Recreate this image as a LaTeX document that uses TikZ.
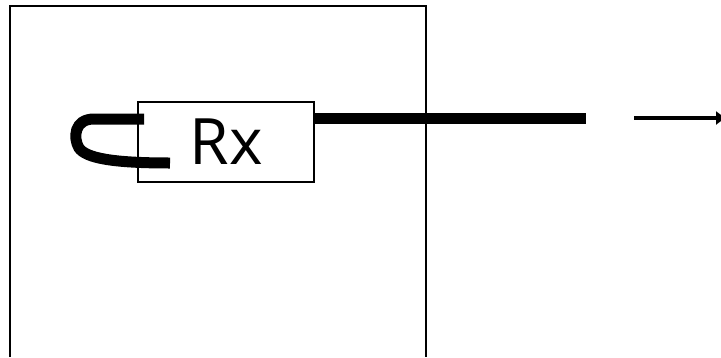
\documentclass[tikz,border=0pt]{standalone}
\usepackage{fontspec}
\setmainfont{Open Sans}
\usetikzlibrary{arrows.meta}
\begin{document}
\begin{tikzpicture}[x=1pt,y=-1pt,
  rxbox/.style={draw,line width=1.3pt,minimum width=176pt,minimum height=80pt,inner sep=0pt,font=\fontsize{64}{66}\selectfont},
  thickbar/.style={line width=11pt},
  hookline/.style={line width=11pt,line cap=butt},
  outarrow/.style={line width=4pt,-{Triangle[length=9pt,width=13pt]}}]
\useasboundingbox (0,0) rectangle (721,357);
\coordinate (ol) at (10,357);
\coordinate (otl) at (10,6);
\coordinate (otr) at (426,6);
\coordinate (or) at (426,357);
\draw[line width=2pt] (ol) -- (otl) -- (otr) -- (or);
\node[rxbox] (rx) at (226,142) {\raisebox{-1pt}{Rx}};
\coordinate (barstart) at (rx.east |- 0,118.5);
\coordinate (barend) at (586,118.5);
\draw[thickbar] (barstart) -- (barend);
\coordinate (hookA) at (144,119);
\coordinate (hookB) at (170,163);
\draw[hookline] (hookA) -- (94,119) .. controls (74,119) and (73,138) .. (79,148) .. controls (86,158) and (112,163) .. (hookB);
\coordinate (arrA) at (634,118);
\coordinate (arrB) at (725,118);
\draw[outarrow] (arrA) -- (arrB);
\end{tikzpicture}
\end{document}
